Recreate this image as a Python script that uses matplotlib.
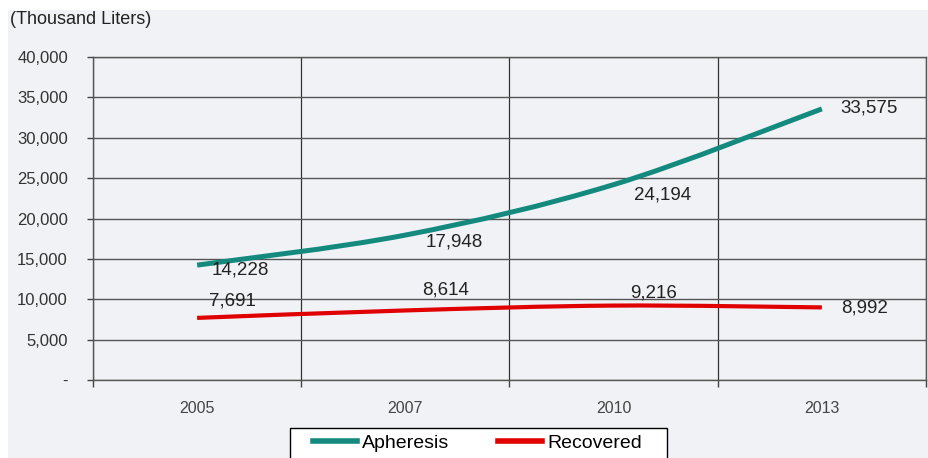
import numpy as np
import matplotlib
matplotlib.use("Agg")
from matplotlib import pyplot as plt
from matplotlib.path import Path
from matplotlib.patches import PathPatch, Rectangle
from matplotlib.lines import Line2D

plt.rcParams['font.family'] = ['Liberation Sans', 'DejaVu Sans']

years = ["2005", "2007", "2010", "2013"]
apheresis = [14228, 17948, 24194, 33575]
recovered = [7691, 8614, 9216, 8992]

TEAL = "#148a7f"
RED = "#e00000"
BG = "#f1f2f6"


def smooth_path(xs, ys):
    # excel-like smoothed line: bezier segments through every point
    pts = np.column_stack([xs, ys]).astype(float)
    ext = np.vstack([pts[0], pts, pts[-1]])
    verts = [pts[0]]
    codes = [Path.MOVETO]
    for i in range(len(pts) - 1):
        p0, p1, p2, p3 = ext[i], ext[i + 1], ext[i + 2], ext[i + 3]
        c1 = p1 + (p2 - p0) / 6.0
        c2 = p2 - (p3 - p1) / 6.0
        verts += [c1, c2, p2]
        codes += [Path.CURVE4] * 3
    return Path(verts, codes)


fig = plt.figure(figsize=(9.29, 4.58), dpi=100)
fig.patches.append(Rectangle((8 / 929, 0), 920 / 929, 1 - 10 / 458,
                             transform=fig.transFigure, facecolor=BG,
                             edgecolor="none", zorder=-10))

ax = fig.add_axes([93 / 929, 1 - 380 / 458, 833 / 929, 323 / 458])
ax.set_facecolor(BG)

x = np.arange(len(years))
for vals, col, lw in [(apheresis, TEAL, 3.6), (recovered, RED, 3.0)]:
    ax.add_patch(PathPatch(smooth_path(x, vals), facecolor="none",
                           edgecolor=col, lw=lw, capstyle="butt", zorder=3))

ax.set_xlim(-0.5, 3.5)
ax.set_ylim(0, 40000)

yt = np.arange(0, 40001, 5000)
ax.set_yticks(yt)
ax.set_yticklabels(["-"] + [f"{v:,}" for v in yt[1:]], fontsize=12, color="#333333")
ax.tick_params(axis="y", length=4, width=1, color="#444444", pad=14)

ax.set_xticks(x)
ax.set_xticklabels(years, fontsize=11.5, color="#444444")
ax.tick_params(axis="x", which="major", length=0, pad=15)
ax.set_xticks(np.arange(-0.5, 3.6, 1), minor=True)
ax.tick_params(axis="x", which="minor", length=5, width=1, color="#444444")

ax.grid(True, axis="y", color="#555555", lw=1)
ax.grid(True, axis="x", which="minor", color="#333333", lw=0.9)
ax.set_axisbelow(True)
for s in ax.spines.values():
    s.set_color("#555555")
    s.set_linewidth(1)

# data labels (offsets in pixels from the point)
offs_a = [(43, -5), (49, -7), (49, -10), (47, 1)]
offs_r = [(35, 17), (40, 20), (40, 13), (43, -1)]
for i in range(len(years)):
    dx, dy = offs_a[i]
    ax.annotate(f"{apheresis[i]:,}", (x[i], apheresis[i]), xytext=(dx, dy),
                textcoords="offset pixels", ha="center", va="center",
                fontsize=13.5, color="#222222")
    dx, dy = offs_r[i]
    ax.annotate(f"{recovered[i]:,}", (x[i], recovered[i]), xytext=(dx, dy),
                textcoords="offset pixels", ha="center", va="center",
                fontsize=13.5, color="#222222")

fig.text(10 / 929, 1 - 20 / 458, "(Thousand Liters)", fontsize=13,
         color="#222222", va="center", ha="left")

# legend box, cut off by the bottom edge like the original
fig.patches.append(Rectangle((290 / 929, -0.1), 377 / 929, 0.1 + 1 - 428 / 458,
                             transform=fig.transFigure, facecolor="white",
                             edgecolor="black", lw=1, zorder=4))
handles = [Line2D([], [], color=TEAL, lw=4), Line2D([], [], color=RED, lw=4)]
leg = fig.legend(handles, ["Apheresis", "Recovered"], loc="center left",
                 bbox_to_anchor=(313 / 929, 1 - 443 / 458), ncol=2,
                 fontsize=14, frameon=False, handlelength=2.27,
                 columnspacing=2.5, borderpad=0, handletextpad=0.26,
                 borderaxespad=0)
leg.set_zorder(5)

fig.savefig("out.png", dpi=100)
